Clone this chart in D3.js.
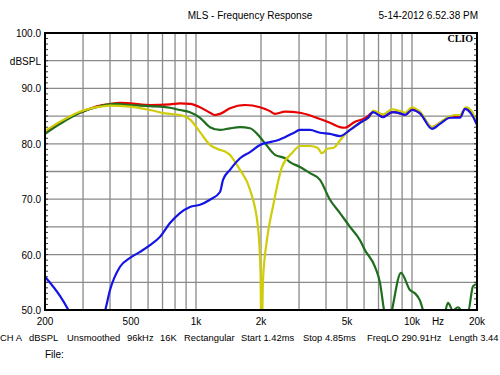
<!DOCTYPE html>
<html lang="en">
<meta charset="utf-8">
<head>
    <script src='https://d3js.org/d3.v7.min.js'></script>
    <style>
        body { margin: 0; background: #fff; }
        text { font-family: "Liberation Sans", Arial, sans-serif; font-size: 10px; fill: #000; }
    </style>
</head>
<body>
</body>

<script>
    var width = 500, height = 375;

    // readings: [Hz, dBSPL]
    var sumCurve = [[200,81.9],[235,83.8],[290,85.6],[360,86.9],[400,87.2],[445,87.4],[495,87.3],[613,87.0],
        [758,87.1],[843,87.3],[938,87.2],[1044,86.6],[1161,85.6],[1225,85.2],[1292,85.4],[1437,86.4],[1687,87.0],
        [1979,86.6],[2201,85.9],[2322,85.4],[2583,85.8],[3031,85.6],[3557,84.8],[4172,83.8],[4642,83.0],[4897,82.9],
        [5448,84.0],[6061,84.6],[6530,85.6],[6742,85.8],[7342,84.9],[8170,85.7],[8803,85.5],[9283,85.2],[10004,86.2],
        [10894,85.5],[12379,83.0],[13484,83.8],[14998,84.8],[16686,85.0],[17598,86.3],[18966,85.4],[20000,83.6]];

    var woofer = [[200,81.8],[235,83.6],[290,85.6],[360,86.8],[422,87.2],[495,87.0],[613,86.8],[758,86.5],
        [843,86.1],[938,85.7],[1044,84.7],[1161,83.0],[1292,82.5],[1437,82.8],[1599,83.0],[1779,82.8],[1979,81.2],
        [2087,80.1],[2322,78.0],[2583,77.4],[2724,76.7],[3031,75.8],[3372,74.7],[3751,73.5],[4172,69.9],[4642,67.5],
        [5165,65.0],[5746,62.6],[6061,60.8],[6742,57.8],[7112,54.9],[7420,50.0],[7750,46.5],[8083,50.0],[8897,56.7],
        [9791,53.6],[10328,53.0],[10894,51.7],[11247,50.0],[12400,47.0],[14000,48.5],[14681,51.3],[15487,49.9],
        [16332,50.5],[17044,49.8],[18170,49.6],[19166,54.3],[20000,54.7]];

    var tweeter = [[200,56.0],[235,52.5],[261,49.5],[290,46.0],[330,45.0],[379,49.8],[400,53.6],[445,57.8],
        [495,59.4],[551,60.5],[613,61.7],[681,63.2],[758,65.7],[843,67.5],[938,68.6],[1044,69.0],[1161,69.9],
        [1292,71.3],[1334,73.5],[1437,75.3],[1599,77.4],[1779,78.5],[1979,79.8],[2201,80.3],[2322,80.5],[2583,81.2],
        [2873,82.1],[3031,82.5],[3372,82.5],[3751,82.0],[4172,81.8],[4642,81.4],[5165,82.5],[5746,83.8],[6258,84.7],
        [6600,85.7],[7342,84.8],[8083,85.7],[8803,85.5],[9283,85.2],[10004,86.1],[10894,85.5],[12379,82.7],
        [13484,83.6],[14998,84.7],[16686,84.7],[17598,86.3],[18966,85.2],[20000,83.4]];

    var inverted = [[200,82.3],[235,84.0],[290,85.8],[360,86.7],[400,86.9],[495,86.7],[613,86.1],[719,85.5],
        [843,85.2],[938,84.4],[1044,82.1],[1161,79.8],[1292,78.9],[1363,78.6],[1437,78.0],[1516,76.7],[1599,75.3],
        [1779,71.7],[1937,65.0],[1990,56.7],[2010,42.0],[2043,55.4],[2130,62.6],[2270,68.6],[2500,75.8],[2780,78.3],
        [3031,79.6],[3372,79.6],[3650,79.3],[3830,78.3],[4050,79.1],[4350,79.3],[4642,80.6],[4897,81.7],[5165,82.5],
        [5746,83.8],[6393,84.9],[6600,86.0],[7342,85.3],[8083,86.2],[8803,85.9],[9283,85.6],[10004,86.6],[10894,85.8],
        [12379,83.0],[14225,84.5],[15821,85.2],[16686,85.2],[17786,86.6],[18966,85.8],[20000,83.6]];

    var yTicks = [50, 60, 70, 80, 90, 100];
    var xTicks = [[200,'200'],[500,'500'],[1000,'1k'],[2000,'2k'],[5000,'5k'],[10000,'10k'],[20000,'20k']];
    var xGrid = [300,400,500,600,700,800,900,1000,2000,3000,4000,5000,6000,7000,8000,9000,10000];
    var footer = ['CH A','dBSPL','Unsmoothed','96kHz','16K','Rectangular','Start 1.42ms','Stop 4.85ms','FreqLO 290.91Hz','Length 3.44'];
    var footerX = [0, 29, 67, 127, 160, 184, 241, 303, 367, 449];

    var L = 45, R = 477, T = 33, B = 310;
    var x = d3.scaleLog().domain([200, 20000]).range([L, R]);
    var y = d3.scaleLinear().domain([50, 100]).range([B, T]);

    var svg = d3.select('body').append('svg').attr('width', width).attr('height', height);

    svg.append('defs').append('clipPath').attr('id', 'plot')
        .append('rect').attr('x', L).attr('y', T).attr('width', R - L).attr('height', B - T);

    // grid
    svg.append('g').selectAll('line').data(xGrid).join('line')
        .attr('x1', function(d) { return x(d) }).attr('x2', function(d) { return x(d) })
        .attr('y1', T).attr('y2', B)
        .attr('stroke', '#8a8a8a').attr('stroke-width', 1.3);
    svg.append('g').selectAll('line').data(d3.range(55, 100, 5)).join('line')
        .attr('x1', L).attr('x2', R)
        .attr('y1', function(d) { return y(d) }).attr('y2', function(d) { return y(d) })
        .attr('stroke', '#8a8a8a').attr('stroke-width', 1.3);

    // minor dB ticks inside both sides
    var minor = d3.range(51, 100);
    svg.append('g').selectAll('line').data(minor).join('line')
        .attr('x1', L).attr('x2', L + 3)
        .attr('y1', function(d) { return y(d) }).attr('y2', function(d) { return y(d) })
        .attr('stroke', '#333');
    svg.append('g').selectAll('line').data(minor).join('line')
        .attr('x1', R - 3).attr('x2', R)
        .attr('y1', function(d) { return y(d) }).attr('y2', function(d) { return y(d) })
        .attr('stroke', '#333');

    // curves
    var line = d3.line()
        .x(function(d) { return x(d[0]) })
        .y(function(d) { return y(d[1]) })
        .curve(d3.curveMonotoneX);
    var series = [[sumCurve, '#e80000'], [woofer, '#1e6e1e'], [inverted, '#cfcc0a'], [tweeter, '#1414e6']];
    svg.append('g').attr('clip-path', 'url(#plot)').selectAll('path').data(series).join('path')
        .attr('d', function(d) { return line(d[0]) })
        .attr('fill', 'none')
        .attr('stroke', function(d) { return d[1] })
        .attr('stroke-width', 2.2)
        .attr('stroke-linejoin', 'round');

    // frame
    svg.append('rect').attr('x', L).attr('y', T).attr('width', R - L).attr('height', B - T)
        .attr('fill', 'none').attr('stroke', '#000').attr('stroke-width', 2);

    // labels
    svg.append('g').selectAll('text').data(yTicks).join('text')
        .attr('x', 41).attr('y', function(d) { return y(d) + 4 })
        .attr('text-anchor', 'end')
        .text(function(d) { return d.toFixed(1) });
    svg.append('text').attr('x', 41).attr('y', y(95) + 4).attr('text-anchor', 'end').text('dBSPL');

    svg.append('g').selectAll('text').data(xTicks).join('text')
        .attr('x', function(d) { return x(d[0]) }).attr('y', 325)
        .attr('text-anchor', 'middle')
        .text(function(d) { return d[1] });
    svg.append('text').attr('x', 438).attr('y', 325).attr('text-anchor', 'middle').text('Hz');

    svg.append('text').attr('x', 250).attr('y', 19).attr('text-anchor', 'middle').text('MLS - Frequency Response');
    svg.append('text').attr('x', 478).attr('y', 19).attr('text-anchor', 'end').text('5-14-2012 6.52.38 PM');
    svg.append('text').attr('x', 473).attr('y', 42).attr('text-anchor', 'end')
        .style('font-family', '"Liberation Serif", serif').style('font-weight', 'bold').style('font-size', '10px')
        .text('CLIO');

    svg.append('g').selectAll('text').data(footer).join('text')
        .attr('x', function(d, i) { return footerX[i] }).attr('y', 341)
        .style('font-size', '9.4px')
        .text(function(d) { return d });
    svg.append('text').attr('x', 45).attr('y', 358).text('File:');

    console.log('ready..');
</script>
